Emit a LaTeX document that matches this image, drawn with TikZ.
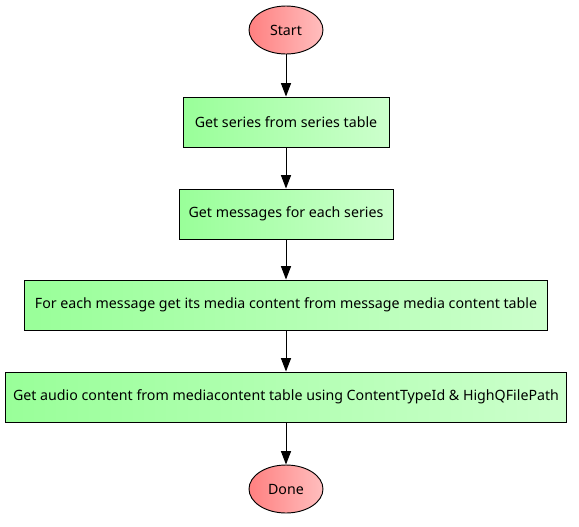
\documentclass[tikz,border=0pt]{standalone}
\usepackage{fontspec}
\setmainfont{Noto Sans}
\usetikzlibrary{shapes.geometric, arrows.meta, positioning}
\definecolor{stepgreenL}{RGB}{153, 255, 153}
\definecolor{stepgreenR}{RGB}{204, 255, 204}
\definecolor{termredL}{RGB}{255, 128, 128}
\definecolor{termredR}{RGB}{255, 190, 190}

\begin{document}
\begin{tikzpicture}[x=0.75pt, y=-0.75pt,
  every node/.style={font=\fontsize{10.65}{13}\selectfont, text=black},
  terminal/.style={ellipse, draw=black, line width=0.7pt, minimum width=55.5pt, minimum height=36pt, inner sep=0pt, left color=termredL, right color=termredR},
  stepbox/.style={rectangle, draw=black, line width=0.7pt, minimum height=37.5pt, inner sep=0pt, left color=stepgreenL, right color=stepgreenR},
  flow/.style={line width=0.75pt, -{Triangle[length=10pt, width=7.5pt]}}]
  \useasboundingbox (0,0) rectangle (579,526);

  % Start and end
  \node[terminal] (start) at (286,30) {Start};
  \node[terminal] (done) at (286,489) {Done};

  % Steps
  \node[stepbox, minimum width=154.5pt] (series) at (286,122) {Get series from series table};
  \node[stepbox, minimum width=160.5pt] (messages) at (286,214) {Get messages for each series};
  \node[stepbox, minimum width=392pt] (media) at (286,305) {For each message get its media content from message media content table};
  \node[stepbox, minimum width=420.5pt] (audio) at (286,397) {Get audio content from mediacontent table using ContentTypeId \& HighQFilePath};

  % Arrows
  \draw[flow] (start) -- (series);
  \draw[flow] (series) -- (messages);
  \draw[flow] (messages) -- (media);
  \draw[flow] (media) -- (audio);
  \draw[flow] (audio) -- (done);
\end{tikzpicture}
\end{document}
